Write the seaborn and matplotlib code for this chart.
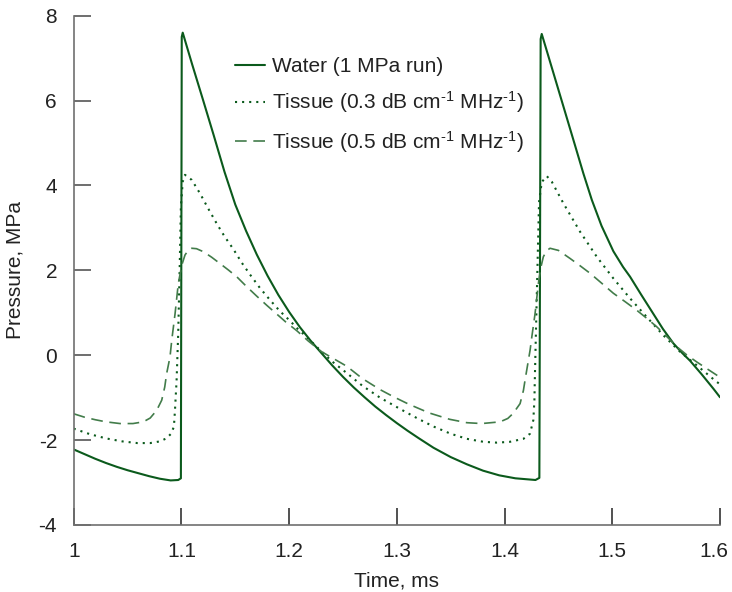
import matplotlib
matplotlib.use("Agg")
import matplotlib.pyplot as plt
import matplotlib.transforms as mtransforms
import seaborn as sns

# ---- data ----
water_t = [1.000, 1.010, 1.020, 1.030, 1.040, 1.050, 1.060, 1.070, 1.080, 1.090,
           1.097, 1.0995, 1.1003, 1.1012, 1.110, 1.120, 1.130, 1.140, 1.150, 1.160,
           1.170, 1.180, 1.190, 1.200, 1.210, 1.220, 1.230, 1.240, 1.250, 1.260,
           1.270, 1.280, 1.290, 1.300, 1.310, 1.320, 1.334, 1.350, 1.365, 1.380,
           1.395, 1.410, 1.4287, 1.4323, 1.4335, 1.4345, 1.445, 1.455, 1.465, 1.4732,
           1.481, 1.490, 1.501, 1.510, 1.5165, 1.527, 1.538, 1.547, 1.5567, 1.565,
           1.5722, 1.583, 1.5939, 1.600]
water_p = [-2.22, -2.33, -2.44, -2.54, -2.63, -2.71, -2.78, -2.85, -2.91, -2.95,
           -2.94, -2.90, 7.50, 7.60, 6.85, 6.02, 5.18, 4.32, 3.55, 2.93,
           2.37, 1.87, 1.42, 1.02, 0.66, 0.34, 0.05, -0.24, -0.51, -0.76,
           -0.99, -1.21, -1.41, -1.60, -1.78, -1.95, -2.18, -2.40, -2.57, -2.72,
           -2.83, -2.90, -2.94, -2.89, 7.45, 7.57, 6.68, 5.83, 4.98, 4.28,
           3.66, 3.05, 2.45, 2.08, 1.85, 1.42, 0.98, 0.62, 0.28, 0.05,
           -0.13, -0.45, -0.79, -0.99]

t03_t = [1.000, 1.015, 1.030, 1.045, 1.059, 1.071, 1.080, 1.086, 1.090, 1.093,
         1.094, 1.0955, 1.097, 1.0985, 1.0995, 1.1012, 1.1033, 1.1096, 1.1173, 1.125,
         1.1328, 1.140, 1.1482, 1.156, 1.1637, 1.173, 1.1823, 1.191, 1.2008, 1.208,
         1.2163, 1.2303, 1.240, 1.2535, 1.268, 1.2844, 1.297, 1.309, 1.320, 1.334,
         1.350, 1.365, 1.3803, 1.393, 1.405, 1.4175, 1.4236, 1.4267, 1.4277, 1.428,
         1.430, 1.432, 1.4345, 1.4392, 1.4438, 1.4546, 1.4701, 1.4856, 1.501, 1.5165,
         1.532, 1.5474, 1.563, 1.5785, 1.597, 1.600]
t03_p = [-1.73, -1.86, -1.96, -2.03, -2.07, -2.07, -2.03, -1.96, -1.86, -1.69,
         -1.30, -0.60, 0.50, 2.20, 3.50, 4.09, 4.25, 4.13, 3.81, 3.45,
         3.10, 2.80, 2.50, 2.18, 1.90, 1.58, 1.30, 1.05, 0.81, 0.62,
         0.43, 0.08, -0.15, -0.42, -0.72, -1.00, -1.18, -1.35, -1.50, -1.68,
         -1.85, -1.97, -2.04, -2.06, -2.04, -1.97, -1.85, -1.53, -1.06, -0.67,
         1.50, 3.60, 4.08, 4.22, 4.09, 3.58, 2.91, 2.32, 1.81, 1.34,
         0.90, 0.47, 0.08, -0.24, -0.63, -0.68]

t05_t = [1.000, 1.010, 1.020, 1.030, 1.043, 1.055, 1.0646, 1.071, 1.077, 1.0817,
         1.0845, 1.0863, 1.0894, 1.091, 1.0941, 1.0971, 1.1003, 1.1033, 1.1065, 1.1096,
         1.114, 1.1203, 1.128, 1.1358, 1.1435, 1.1513, 1.160, 1.170, 1.1795, 1.1885,
         1.197, 1.207, 1.218, 1.2303, 1.2535, 1.268, 1.2844, 1.297, 1.3107, 1.330,
         1.349, 1.365, 1.3788, 1.3958, 1.403, 1.408, 1.4144, 1.4175, 1.419, 1.4237,
         1.4253, 1.4283, 1.4314, 1.4335, 1.436, 1.439, 1.4422, 1.450, 1.4608, 1.470,
         1.4794, 1.490, 1.501, 1.512, 1.5227, 1.532, 1.5413, 1.551, 1.5599, 1.569,
         1.5785, 1.588, 1.597, 1.600]
t05_p = [-1.38, -1.46, -1.52, -1.57, -1.61, -1.61, -1.57, -1.48, -1.30, -1.06,
         -0.75, -0.43, -0.04, 0.35, 0.98, 1.69, 2.12, 2.36, 2.48, 2.52,
         2.51, 2.44, 2.31, 2.16, 2.01, 1.85, 1.63, 1.39, 1.17, 0.97,
         0.78, 0.58, 0.33, 0.08, -0.26, -0.55, -0.81, -0.98, -1.15, -1.36,
         -1.51, -1.59, -1.61, -1.57, -1.49, -1.37, -1.14, -0.83, -0.59, 0.12,
         0.43, 0.98, 1.69, 2.05, 2.32, 2.46, 2.52, 2.47, 2.28, 2.11,
         1.93, 1.70, 1.46, 1.26, 1.06, 0.87, 0.67, 0.43, 0.20, 0.01,
         -0.16, -0.32, -0.47, -0.52]

labels = ["Water (1 MPa run)",
          r"Tissue (0.3 dB cm$^{\text{-1}}$ MHz$^{\text{-1}}$)",
          r"Tissue (0.5 dB cm$^{\text{-1}}$ MHz$^{\text{-1}}$)"]
x_ticks = [1.0, 1.1, 1.2, 1.3, 1.4, 1.5, 1.6]
x_ticklabels = ["1", "1.1", "1.2", "1.3", "1.4", "1.5", "1.6"]
y_ticks = [-4, -2, 0, 2, 4, 6, 8]

# ---- style ----
sns.set_style("white")
plt.rcParams["font.family"] = ["Liberation Sans", "DejaVu Sans"]
plt.rcParams["mathtext.fontset"] = "custom"
plt.rcParams["mathtext.rm"] = "Liberation Sans"
plt.rcParams["mathtext.it"] = "Liberation Sans"
plt.rcParams["axes.unicode_minus"] = False

fig = plt.figure(figsize=(7.32, 5.92), dpi=100)
ax = fig.add_axes([0.1007, 0.1132, 0.9836 - 0.1007, 0.9735 - 0.1132])

dark = "#0b5a1c"
light = "#427c4a"

sns.lineplot(x=water_t, y=water_p, ax=ax, color=dark, linewidth=1.5,
             linestyle="-", label=labels[0], sort=False)
sns.lineplot(x=t03_t, y=t03_p, ax=ax, color=dark, linewidth=1.5,
             linestyle=(0, (1, 2.4)), label=labels[1], sort=False)
sns.lineplot(x=t05_t, y=t05_p, ax=ax, color=light, linewidth=1.2,
             linestyle=(0, (7, 4)), label=labels[2], sort=False)

ax.set_xlim(1.0, 1.6)
ax.set_ylim(-4, 8)
ax.set_xticks(x_ticks)
ax.set_xticklabels(x_ticklabels)
ax.set_yticks(y_ticks)
ax.set_yticklabels([str(v) for v in y_ticks])

for s in ["top", "right"]:
    ax.spines[s].set_visible(False)
for s in ["left", "bottom"]:
    ax.spines[s].set_color("#707070")
    ax.spines[s].set_linewidth(1.2)

ax.tick_params(axis="y", direction="in", length=12, width=1.2, color="#555555",
               pad=12, labelsize=15, labelcolor="#222222", left=True)
ax.tick_params(axis="x", direction="in", length=12, width=1.2, color="#333333",
               pad=12, labelsize=15, labelcolor="#222222", bottom=True)

# the last x label sits slightly left of its tick in the reference
last = ax.get_xticklabels()[-1]
last.set_transform(last.get_transform() +
                   mtransforms.ScaledTranslation(-6 / 100, 0, fig.dpi_scale_trans))

ax.set_xlabel("Time, ms", fontsize=15, color="#222222", labelpad=8)
ax.set_ylabel("Pressure, MPa", fontsize=15, color="#222222", labelpad=10)

leg = ax.legend(loc="upper left", bbox_to_anchor=(235 / 732, 1 - 57 / 592),
                bbox_transform=fig.transFigure, frameon=False, fontsize=15,
                handlelength=1.45, handletextpad=0.35, labelspacing=0.65,
                borderpad=0, borderaxespad=0)
for txt in leg.get_texts():
    txt.set_color("#222222")

fig.savefig("out.png", dpi=100)
